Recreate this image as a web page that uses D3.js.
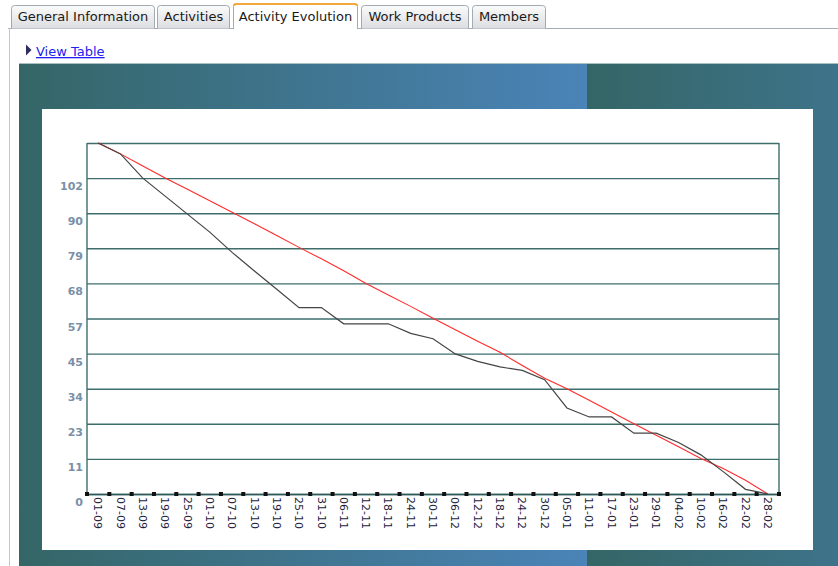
<!DOCTYPE html>
<html>
    <head>
        <meta charset="utf-8">
        <title>Activity Evolution</title>
        <script src="https://cdnjs.cloudflare.com/ajax/libs/d3/7.8.5/d3.min.js"></script>
        <style>
            body { margin: 0; background: #ffffff; }
            svg { display: block; }
        </style>
    </head>
    <body>
        <script type="text/javascript">

            // Tabs on top of the page
            var tabNames = ["General Information", "Activities", "Activity Evolution", "Work Products", "Members"];
            var tabLeft = [11, 157, 233, 361, 472];
            var tabRight = [155, 230, 358, 469, 546];
            var activeTab = 2;

            // Dates on the x-axis (every 6 days)
            var dates = ["01-09", "07-09", "13-09", "19-09", "25-09", "01-10", "07-10", "13-10",
                         "19-10", "25-10", "31-10", "06-11", "12-11", "18-11", "24-11", "30-11",
                         "06-12", "12-12", "18-12", "24-12", "30-12", "05-01", "11-01", "17-01",
                         "23-01", "29-01", "04-02", "10-02", "16-02", "22-02", "28-02"];

            // Remaining work, real (black) and ideal (red)
            var actual = [113, 109.5, 101.7, 95.9, 90.1, 84.3, 77.8, 71.8, 65.9, 60.0, 60.0,
                          54.8, 54.8, 54.8, 51.7, 50.0, 45.1, 42.7, 40.9, 39.8, 36.8, 27.7,
                          24.8, 24.8, 19.6, 19.6, 16.6, 12.6, 7.2, 1.5, 0];
            var ideal = [113, 109.5, 105.6, 101.7, 98.1, 94.4, 90.7, 87.0, 83.2, 79.4, 75.7,
                         71.9, 67.8, 64.1, 60.4, 56.6, 52.9, 49.2, 45.6, 41.4, 37.3, 33.9,
                         30.2, 26.4, 22.6, 18.9, 15.2, 11.4, 8.2, 4.4, 0];

            // Y ticks and the labels shown for them
            var yTicks = [0, 11.3, 22.6, 33.9, 45.2, 56.5, 67.8, 79.1, 90.4, 101.7, 113];
            var yLabels = ["0", "11", "23", "34", "45", "57", "68", "79", "90", "102", ""];
            var yMax = 113;

            var width = 838;
            var height = 566;

            // Plot area
            var plotLeft = 87;
            var plotRight = 779;
            var plotTop = 143;
            var plotBottom = 494;

            var svg = d3.select("body")
                        .append("svg")
                        .attr("width", width)
                        .attr("height", height)
                        .style("font-family", "'DejaVu Sans', Verdana, sans-serif");

            var defs = svg.append("defs");

            // gradients for tabs and the teal background
            var tabGrad = defs.append("linearGradient")
                              .attr("id", "tabGrad")
                              .attr("x1", 0).attr("y1", 0).attr("x2", 0).attr("y2", 1);
            tabGrad.append("stop").attr("offset", "0%").attr("stop-color", "#fbfbfb");
            tabGrad.append("stop").attr("offset", "100%").attr("stop-color", "#dcdde0");

            var bgGrad = defs.append("linearGradient")
                             .attr("id", "bgGrad")
                             .attr("gradientUnits", "userSpaceOnUse")
                             .attr("x1", 19).attr("y1", 0).attr("x2", 587).attr("y2", 0)
                             .attr("spreadMethod", "repeat");
            bgGrad.append("stop").attr("offset", "0%").attr("stop-color", "#346666");
            bgGrad.append("stop").attr("offset", "100%").attr("stop-color", "#4a84b8");

            // Content box borders
            svg.append("line")
               .attr("x1", 8).attr("x2", width).attr("y1", 28.5).attr("y2", 28.5)
               .attr("stroke", "#a4acb6");
            svg.append("line")
               .attr("x1", 9.5).attr("x2", 9.5).attr("y1", 28).attr("y2", height)
               .attr("stroke", "#c6c6d0");

            // Draw the tabs
            tabNames.forEach(function(name, i) {
                var x0 = tabLeft[i] + 0.5;
                var x1 = tabRight[i] - 0.5;
                var top = (i == activeTab) ? 3.5 : 5.5;
                var bottom = (i == activeTab) ? 29 : 28.5;
                var r = 3;
                var path = "M" + x0 + "," + bottom + " L" + x0 + "," + (top + r) +
                           " Q" + x0 + "," + top + " " + (x0 + r) + "," + top +
                           " L" + (x1 - r) + "," + top +
                           " Q" + x1 + "," + top + " " + x1 + "," + (top + r) +
                           " L" + x1 + "," + bottom;
                svg.append("path")
                   .attr("d", path + " Z")
                   .attr("fill", (i == activeTab) ? "#ffffff" : "url(#tabGrad)")
                   .attr("stroke", "none");
                svg.append("path")
                   .attr("d", path)
                   .attr("fill", "none")
                   .attr("stroke", "#a2aab4");
                if (i == activeTab) {
                    svg.append("path")
                       .attr("d", "M" + (x0 + 0.5) + "," + (top + 2.5) + " Q" + (x0 + 0.5) + "," + (top + 0.5) + " " + (x0 + r) + "," + (top + 0.5) +
                                  " L" + (x1 - r) + "," + (top + 0.5) + " Q" + (x1 - 0.5) + "," + (top + 0.5) + " " + (x1 - 0.5) + "," + (top + 2.5))
                       .attr("fill", "none")
                       .attr("stroke", "#f2a83a")
                       .attr("stroke-width", 2);
                }
                svg.append("text")
                   .attr("x", (tabLeft[i] + tabRight[i]) / 2)
                   .attr("y", 20.5)
                   .attr("text-anchor", "middle")
                   .attr("font-size", "13px")
                   .attr("fill", "#1a1a1a")
                   .text(name);
            });

            // "View Table" link with its triangle
            svg.append("path")
               .attr("d", "M26,44.5 L31.5,50 L26,55.5 Z")
               .attr("fill", "#2e2e60");
            svg.append("text")
               .attr("x", 36)
               .attr("y", 56)
               .attr("font-size", "13px")
               .attr("fill", "#2222ee")
               .attr("text-decoration", "underline")
               .text("View Table");

            // Teal background with the white chart panel
            svg.append("rect")
               .attr("x", 19).attr("y", 63)
               .attr("width", width - 19).attr("height", height - 63)
               .attr("fill", "url(#bgGrad)");
            svg.append("line")
               .attr("x1", 19).attr("x2", width).attr("y1", 63.5).attr("y2", 63.5)
               .attr("stroke", "#a9bfc2");
            svg.append("rect")
               .attr("x", 42).attr("y", 109)
               .attr("width", 771).attr("height", 441)
               .attr("fill", "#ffffff");

            // Scales
            var xScale = d3.scaleBand()
                           .domain(dates)
                           .range([plotLeft, plotRight])
                           .padding(0);

            var yScale = d3.scaleLinear()
                           .domain([0, yMax])
                           .range([plotBottom, plotTop]);

            function xMid(d) {
                return xScale(d) + xScale.bandwidth() / 2;
            }

            // Horizontal grid lines with the y labels (placed under each line)
            var yAxis = svg.append("g")
                           .attr("class", "y axis")
                           .attr("transform", "translate(" + plotLeft + ",0)")
                           .call(d3.axisLeft(yScale)
                                   .tickValues(yTicks)
                                   .tickSize(-(plotRight - plotLeft))
                                   .tickPadding(4)
                                   .tickFormat(function(d, i) { return yLabels[i]; }));

            yAxis.select(".domain").remove();
            yAxis.selectAll(".tick line")
                 .attr("stroke", "#3e6e6c")
                 .attr("stroke-width", 1.4);
            yAxis.selectAll(".tick text")
                 .attr("dy", "1.05em")
                 .attr("font-family", "'DejaVu Sans', Verdana, sans-serif")
                 .attr("font-size", "11px")
                 .attr("font-weight", "bold")
                 .attr("fill", "#7a90a8");

            // Left and right border of the plot
            svg.append("line")
               .attr("x1", plotLeft).attr("x2", plotLeft)
               .attr("y1", plotTop).attr("y2", plotBottom)
               .attr("stroke", "#3e6e6c").attr("stroke-width", 1.4);
            svg.append("line")
               .attr("x1", plotRight).attr("x2", plotRight)
               .attr("y1", plotTop).attr("y2", plotBottom)
               .attr("stroke", "#3e6e6c").attr("stroke-width", 1.4);

            // X axis with the rotated date labels
            var xAxis = svg.append("g")
                           .attr("class", "x axis")
                           .attr("transform", "translate(0," + plotBottom + ")")
                           .call(d3.axisBottom(xScale).tickSize(0).tickPadding(0));

            xAxis.select(".domain")
                 .attr("stroke", "#2c5a5a")
                 .attr("stroke-width", 1.4);
            xAxis.selectAll(".tick text")
                 .attr("transform", "rotate(90)")
                 .attr("x", 3)
                 .attr("y", 0)
                 .attr("dy", "0.35em")
                 .style("text-anchor", "start")
                 .attr("font-family", "'DejaVu Sans', Verdana, sans-serif")
                 .attr("font-size", "11px")
                 .attr("fill", "#1c1c3c");

            // Little black tick marks on the band edges
            var edges = dates.map(function(d) { return xScale(d); });
            edges.push(xScale(dates[dates.length - 1]) + xScale.bandwidth());
            svg.selectAll(".edge")
               .data(edges)
               .enter()
               .append("rect")
               .attr("class", "edge")
               .attr("x", function(d) { return d - 2; })
               .attr("y", plotBottom - 2)
               .attr("width", 4)
               .attr("height", 4)
               .attr("fill", "#111111");

            // Lines
            var line = d3.line()
                         .x(function(d, i) { return xMid(dates[i]); })
                         .y(function(d) { return yScale(d); });

            svg.append("path")
               .datum(ideal)
               .attr("d", line)
               .attr("fill", "none")
               .attr("stroke", "#ff2a2a")
               .attr("stroke-width", 1.1);

            svg.append("path")
               .datum(actual)
               .attr("d", line)
               .attr("fill", "none")
               .attr("stroke", "#444444")
               .attr("stroke-width", 1.2);

        </script>
    </body>
</html>
